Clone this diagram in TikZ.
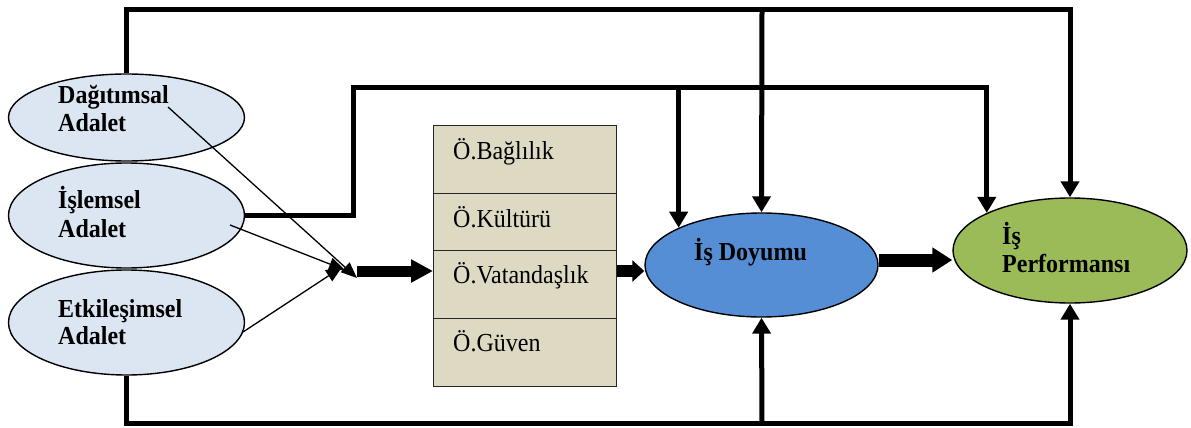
\documentclass[tikz,border=0pt]{standalone}
\usepackage{fontspec}
\usepackage{graphicx}
\setmainfont{Liberation Serif}
\usetikzlibrary{arrows.meta,shapes.geometric}
\definecolor{adaletfill}{HTML}{DCE6F2}
\definecolor{tanfill}{HTML}{DDD9C3}
\definecolor{doyumfill}{HTML}{558ED5}
\definecolor{perffill}{HTML}{9BBB59}
\newcommand{\talltext}[1]{\scalebox{1}[1.08]{#1}}
\begin{document}
\begin{tikzpicture}[x=1pt,y=-1pt,
  oval/.style={ellipse,draw=black,line width=1.4pt,inner sep=0pt,minimum width=236pt},
  rowbox/.style={rectangle,draw=black!85,fill=tanfill,line width=1.4pt,inner sep=0pt,
    anchor=north west,minimum width=183pt},
  lblb/.style={anchor=base west,inner sep=0pt,font=\bfseries\fontsize{24}{28}\selectfont},
  rowtxt/.style={anchor=base west,inner sep=0pt,font=\fontsize{24}{28}\selectfont},
  thickline/.style={line width=5pt},
  thickarrow/.style={thickline,-{Triangle[width=18pt,length=16pt]}},
  thinarrow/.style={line width=1.3pt,-{Triangle[width=13pt,length=16pt]}},
  fatA/.style={line width=11pt,-{Triangle[width=22pt,length=22pt]}},
  fatB/.style={line width=12pt,-{Triangle[width=21pt,length=12pt]}},
  fatC/.style={line width=13pt,-{Triangle[width=24pt,length=20pt]}}
]
\useasboundingbox (0,0) rectangle (1191,428);

% justice dimensions
\node[oval,fill=adaletfill,minimum height=87pt]  (dag) at (126.5,117.5) {};
\node[oval,fill=adaletfill,minimum height=105pt] (isl) at (126.5,215.5) {};
\node[oval,fill=adaletfill,minimum height=105pt] (etk) at (126.5,322.5) {};
\node[lblb] (dagA) at (58,103) {\talltext{Dağıtımsal}};
\node[lblb] (dagB) at (58,131) {\talltext{Adalet}};
\node[lblb] (islA) at (58,208) {\talltext{İşlemsel}};
\node[lblb] (islB) at (58,237) {\talltext{Adalet}};
\node[lblb] (etkA) at (58,317) {\talltext{Etkileşimsel}};
\node[lblb] (etkB) at (58,344) {\talltext{Adalet}};

% organisational variables
\node[rowbox,minimum height=68pt] (r1) at (433,125) {};
\node[rowbox,minimum height=57pt] (r2) at (433,193) {};
\node[rowbox,minimum height=68pt] (r3) at (433,250) {};
\node[rowbox,minimum height=68pt] (r4) at (433,318) {};
\node[rowtxt] (t1) at (453,159) {\talltext{Ö.Bağlılık}};
\node[rowtxt] (t2) at (453,227) {\talltext{Ö.Kültürü}};
\node[rowtxt] (t3) at (453,283) {\talltext{Ö.Vatandaşlık}};
\node[rowtxt] (t4) at (453,351) {\talltext{Ö.Güven}};

% outcomes
\node[oval,fill=doyumfill,minimum width=233pt,minimum height=104pt] (isd) at (761.5,265) {};
\node[oval,fill=perffill,minimum width=234pt,minimum height=105pt] (ip) at (1070,250.5) {};
\node[lblb] (isdT) at (694,260) {\talltext{İş Doyumu}};
\node[lblb] (ipA) at (1002,244) {\talltext{İş}};
\node[lblb] (ipB) at (1002,272) {\talltext{Performansı}};

% routing points
\coordinate (top) at (762,10);
\coordinate (mid) at (353,87);
\coordinate (bot) at (762,423);
\coordinate (hub) at (357,271);
\coordinate (flow) at (900,260);
\coordinate (sD) at (168,107);
\coordinate (sI) at (230,225);
\coordinate (sE) at (243,332);
\coordinate (tD) at (357,278);
\coordinate (tI) at (345,270);
\coordinate (tE) at (342,267);

% direct effects
\draw[thickarrow] (dag.north) |- (top) -| (ip.north);
\draw[thickarrow] (top) -- (isd.north);
\draw[thickarrow] (isl.east) -| (mid) -| (ip.north west);
\draw[thickarrow] (isd.north west |- mid) -- (isd.north west);
\draw[thickarrow] (etk.south) |- (bot) -| (ip.south);
\draw[thickarrow] (bot) -- (isd.south);

% mediated path
\draw[thinarrow] (sD) -- (tD);
\draw[thinarrow] (sI) -- (tI);
\draw[thinarrow] (sE) -- (tE);
\draw[fatA] (hub) -- (hub -| r3.west);
\draw[fatB] (r3.east |- hub) -- (isd.west |- hub);
\draw[fatC] (isd.east |- flow) -- (ip.west |- flow);
\end{tikzpicture}
\end{document}
